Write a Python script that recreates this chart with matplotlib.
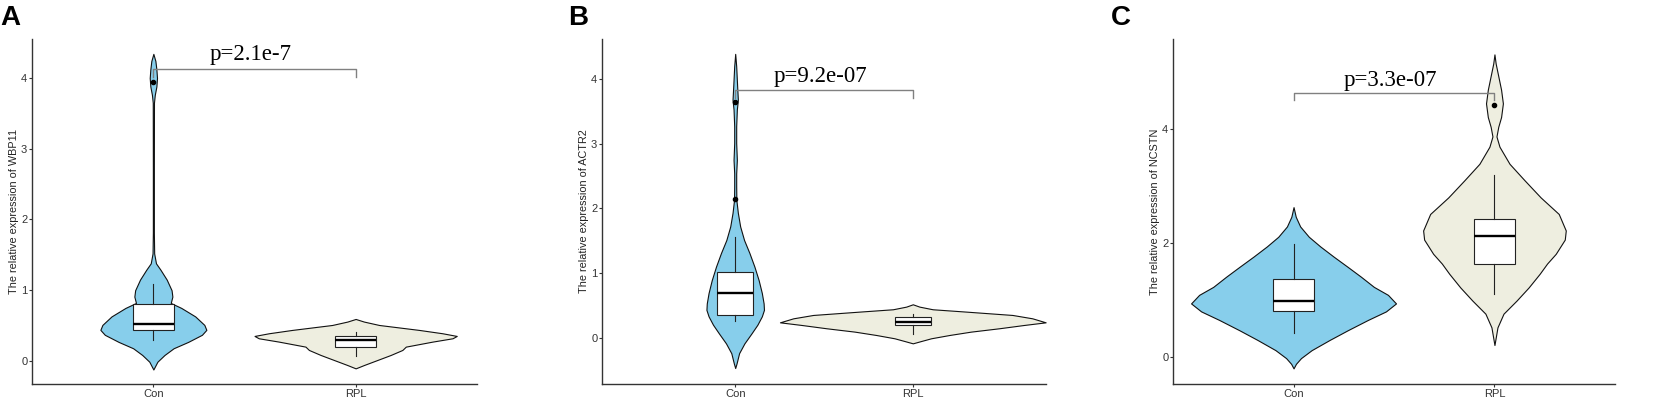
import numpy as np
import matplotlib
matplotlib.use("Agg")
import matplotlib.pyplot as plt

# ---------------- data ----------------
categories = ["Con", "RPL"]
genes = ["WBP11", "ACTR2", "NCSTN"]
panel_letters = ["A", "B", "C"]
pvalues = ["p=2.1e-7", "p=9.2e-07", "p=3.3e-07"]

# violin outlines: y values and half-widths (x units)
A_con_y = [4.34, 4.24, 4.12, 4.00, 3.88, 3.76, 3.65, 2.75, 1.81, 1.52, 1.38, 1.29, 1.15, 1.00, 0.91,
           0.82, 0.75, 0.63, 0.51, 0.44, 0.37, 0.27, 0.18, 0.085, -0.01, -0.12]
A_con_hw = [0, .010, .015, .018, .015, .007, .003, .0025, .0025, .004, .013, .035, .066, .090, .094,
            .086, .138, .207, .252, .262, .240, .172, .100, .055, .020, 0]
A_rpl_y = [0.594, 0.557, 0.509, 0.439, 0.392, 0.354, 0.321, 0.274, 0.203, 0.156, 0.085, 0.014, -0.057, -0.104]
A_rpl_hw = [0, .041, .116, .314, .429, .500, .479, .380, .248, .231, .173, .107, .041, 0]

B_con_y = [4.39, 4.20, 3.89, 3.68, 3.53, 3.27, 3.01, 2.75, 2.54, 2.34, 2.13, 1.93, 1.72, 1.51, 1.31,
           1.10, 0.89, 0.69, 0.53, 0.43, 0.33, 0.20, 0.067, -0.088, -0.24, -0.40, -0.47]
B_con_hw = [0, .0056, .011, .015, .0093, .0056, .0056, .0093, .0056, .0056, .0065, .015, .028, .050, .080,
            .108, .132, .150, .160, .162, .150, .125, .092, .052, .022, .0075, 0]
B_rpl_y = [0.516, 0.480, 0.439, 0.403, 0.351, 0.299, 0.237, 0.196, 0.145, 0.093, 0.041, -0.010, -0.052, -0.088]
B_rpl_hw = [0, .037, .112, .299, .561, .673, .748, .626, .486, .327, .206, .103, .047, 0]

C_con_y = [2.63, 2.46, 2.29, 2.11, 1.94, 1.76, 1.58, 1.41, 1.23, 1.09, 0.94, 0.80, 0.65, 0.47, 0.30,
           0.12, -0.02, -0.12, -0.20]
C_con_hw = [0, .011, .033, .076, .133, .200, .270, .335, .400, .470, .510, .460, .370, .270, .180,
            .090, .037, .012, 0]
C_rpl_y = [5.31, 5.15, 4.98, 4.69, 4.45, 4.21, 4.04, 3.87, 3.69, 3.39, 3.10, 2.80, 2.51, 2.22, 2.06,
           1.81, 1.64, 1.46, 1.22, 0.99, 0.76, 0.52, 0.21]
C_rpl_hw = [0, .006, .016, .033, .042, .033, .019, .010, .025, .075, .150, .230, .320, .355, .350,
            .305, .262, .225, .170, .110, .045, .015, 0]

# box stats: [whisker low, q1, median, q3, whisker high]
A_con_box = [0.30, 0.44, 0.52, 0.81, 1.09]
A_rpl_box = [0.07, 0.20, 0.30, 0.36, 0.415]
B_con_box = [0.26, 0.35, 0.69, 1.02, 1.56]
B_rpl_box = [0.05, 0.196, 0.248, 0.315, 0.366]
C_con_box = [0.415, 0.81, 0.98, 1.36, 1.99]
C_rpl_box = [1.105, 1.64, 2.13, 2.43, 3.19]

A_con_out = [3.94]
A_rpl_out = []
B_con_out = [3.65, 2.14]
B_rpl_out = []
C_con_out = []
C_rpl_out = [4.43]

bracket_y = [4.13, 3.83, 4.63]
label_y = [4.26, 3.96, 4.75]

# ---------------- style ----------------
con_color = "#87CEEB"
rpl_color = "#EEEEE0"
W, H = 1660, 403
fig = plt.figure(figsize=(W / 100, H / 100), dpi=100)

ax_px = [(32, 477), (602, 1046), (1173, 1615)]
top_px, bot_px = 39, 384
xlims = [(0.4, 2.6), (0.25, 2.75), (0.4, 2.6)]
ylims = [(-0.325, 4.55), (-0.717, 4.62), (-0.474, 5.58)]
yticks = [[0, 1, 2, 3, 4], [0, 1, 2, 3, 4], [0, 2, 4]]
letter_x = [0, 568, 1111]

panels = [
    ((A_con_y, A_con_hw, A_con_box, A_con_out), (A_rpl_y, A_rpl_hw, A_rpl_box, A_rpl_out)),
    ((B_con_y, B_con_hw, B_con_box, B_con_out), (B_rpl_y, B_rpl_hw, B_rpl_box, B_rpl_out)),
    ((C_con_y, C_con_hw, C_con_box, C_con_out), (C_rpl_y, C_rpl_hw, C_rpl_box, C_rpl_out)),
]

for i, (groups) in enumerate(panels):
    l, r = ax_px[i]
    ax = fig.add_axes([l / W, (H - bot_px) / H, (r - l) / W, (bot_px - top_px) / H])
    for j, (vy, vhw, box, out) in enumerate(groups):
        pos = j + 1
        vy = np.asarray(vy)
        vhw = np.asarray(vhw)
        ax.fill_betweenx(vy, pos - vhw, pos + vhw, facecolor=con_color if j == 0 else rpl_color,
                         edgecolor="#111111", linewidth=0.8, zorder=2)
        stats = [dict(whislo=box[0], q1=box[1], med=box[2], q3=box[3], whishi=box[4],
                      fliers=out, label=categories[j])]
        ax.bxp(stats, positions=[pos], widths=0.2, showcaps=False, patch_artist=True,
               boxprops=dict(facecolor="white", edgecolor="#222222", linewidth=0.8),
               medianprops=dict(color="black", linewidth=1.7),
               whiskerprops=dict(color="#222222", linewidth=0.8),
               flierprops=dict(marker="o", markerfacecolor="black", markeredgecolor="black",
                               markersize=3.0), zorder=3)
    # significance bracket
    by = bracket_y[i]
    ax.plot([1, 1, 2, 2], [by - 0.12, by, by, by - 0.12], color="#808080", linewidth=1.0, zorder=4)
    ax.text(1.48, label_y[i], pvalues[i], ha="center", va="baseline", fontsize=16.5,
            family="Liberation Serif", color="black")

    ax.set_xlim(*xlims[i])
    ax.set_ylim(*ylims[i])
    ax.set_xticks([1, 2])
    ax.set_xticklabels(categories)
    ax.set_yticks(yticks[i])
    for s in ["top", "right"]:
        ax.spines[s].set_visible(False)
    for s in ["left", "bottom"]:
        ax.spines[s].set_color("#333333")
        ax.spines[s].set_linewidth(1.0)
    ax.tick_params(axis="both", colors="#333333", length=2.2, width=0.8, labelsize=8,
                   labelcolor="#333333", pad=1.2)
    for t in ax.get_xticklabels() + ax.get_yticklabels():
        t.set_family("Liberation Sans")
    ax.set_ylabel("The relative expression of " + genes[i], fontsize=7.8, family="Liberation Sans",
                  color="#222222", labelpad=1.8)
    fig.text(letter_x[i] / W, 1 - 5 / H, panel_letters[i], ha="left", va="top", fontsize=20,
             fontweight="bold", family="Liberation Sans")

fig.savefig("out.png", dpi=100)
